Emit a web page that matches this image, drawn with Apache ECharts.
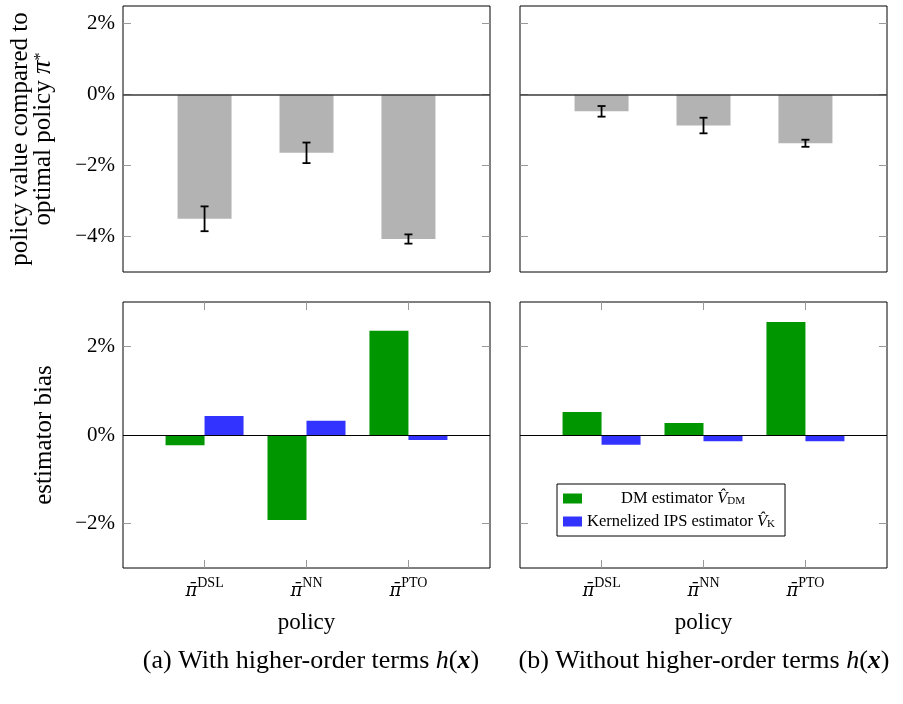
<!DOCTYPE html>
<html>
<head>
<meta charset="utf-8">
<script src="https://cdn.jsdelivr.net/npm/echarts@6/dist/echarts.min.js"></script>
<style>
  html, body { margin: 0; padding: 0; background: #fff; }
  #chart { width: 903px; height: 704px; }
</style>
</head>
<body>
<div id="chart"></div>
<script>
// policies and read-off values (percent)
const policies = ['DSL', 'NN', 'PTO'];
const valueWithH = [-3.5, -1.64, -4.07];
const errWithH = [0.35, 0.29, 0.13];
const valueWithoutH = [-0.47, -0.87, -1.37];
const errWithoutH = [0.15, 0.22, 0.1];
const dmBiasWithH = [-0.23, -1.92, 2.35];
const ipsBiasWithH = [0.43, 0.32, -0.11];
const dmBiasWithoutH = [0.52, 0.27, 2.55];
const ipsBiasWithoutH = [-0.22, -0.14, -0.14];
const topTicks = [-4, -2, 0, 2];
const bottomTicks = [-2, 0, 2];

const FONT = '"Liberation Serif", "DejaVu Serif", serif';
const GREEN = '#009600';
const BLUE = '#3333ff';
const GRAY = '#b3b3b3';

const chart = echarts.init(document.getElementById('chart'));

const pct = v => (v < 0 ? '\u2212' : '') + Math.abs(v) + '%';
const pairs = arr => arr.map((v, i) => [i, v]);
const errs = (vals, e) => vals.map((v, i) => [i, v - e[i], v + e[i]]);

const grids = [
  { left: 123, top: 6, width: 367, height: 266 },
  { left: 520, top: 6, width: 367, height: 266 },
  { left: 123, top: 302, width: 367, height: 266 },
  { left: 520, top: 302, width: 367, height: 266 }
].map(g => ({ ...g, show: true, borderColor: '#000', borderWidth: 1, backgroundColor: 'transparent' }));

const tickStyle = { inside: true, length: 8, lineStyle: { color: '#999', width: 1 } };

const xBase = (gridIndex, position, withTicks, withLabels) => ({
  type: 'value', gridIndex, position, min: -0.8, max: 2.8,
  axisLine: { show: false, onZero: false },
  splitLine: { show: false },
  axisTick: { show: withTicks, ...tickStyle, customValues: [0, 1, 2] },
  axisLabel: {
    show: withLabels, customValues: [0, 1, 2], margin: 8,
    formatter: v => '{pi|\u03C0\u0304}{sup|' + policies[v] + '}',
    rich: {
      pi: { fontFamily: '"DejaVu Serif", serif', fontSize: 18, fontStyle: 'italic', color: '#000', verticalAlign: 'bottom', lineHeight: 24 },
      sup: { fontFamily: FONT, fontSize: 14, color: '#000', verticalAlign: 'top', lineHeight: 14 }
    }
  },
  name: withLabels ? 'policy' : '',
  nameLocation: 'middle', nameGap: 43,
  nameTextStyle: { fontFamily: FONT, fontSize: 23, color: '#000' }
});

const yBase = (gridIndex, position, min, max, ticks, withLabels) => ({
  type: 'value', gridIndex, position, min, max,
  axisLine: { show: false, onZero: false },
  splitLine: { show: false },
  axisTick: { show: true, ...tickStyle, customValues: ticks },
  axisLabel: {
    show: withLabels, customValues: ticks, margin: 8,
    fontFamily: FONT, fontSize: 21, color: '#000', formatter: pct
  }
});

const xAxes = [
  xBase(0, 'bottom', false, false),
  xBase(1, 'bottom', false, false),
  xBase(2, 'bottom', true, true),
  xBase(3, 'bottom', true, true),
  xBase(2, 'top', true, false),
  xBase(3, 'top', true, false)
];

const yAxes = [
  yBase(0, 'left', -5, 2.5, topTicks, true),
  yBase(1, 'left', -5, 2.5, topTicks, false),
  yBase(2, 'left', -3, 3, bottomTicks, true),
  yBase(3, 'left', -3, 3, bottomTicks, false),
  yBase(0, 'right', -5, 2.5, topTicks, false),
  yBase(1, 'right', -5, 2.5, topTicks, false),
  yBase(2, 'right', -3, 3, bottomTicks, false),
  yBase(3, 'right', -3, 3, bottomTicks, false)
];

Object.assign(yAxes[0], {
  name: '{t|policy value compared to}\n{t|optimal policy }{m|\u03C0}{s|*}',
  nameLocation: 'middle', nameGap: 67, nameRotate: 90,
  nameTextStyle: {
    rich: {
      t: { fontFamily: FONT, fontSize: 25, color: '#000', lineHeight: 23, verticalAlign: 'bottom' },
      m: { fontFamily: FONT, fontSize: 27, fontStyle: 'italic', color: '#000', lineHeight: 23, verticalAlign: 'bottom' },
      s: { fontFamily: FONT, fontSize: 16, color: '#000', lineHeight: 15, verticalAlign: 'top' }
    }
  }
});
Object.assign(yAxes[2], {
  name: 'estimator bias', nameLocation: 'middle', nameGap: 66, nameRotate: 90,
  nameTextStyle: { fontFamily: FONT, fontSize: 25, color: '#000' }
});

const zeroLine = color => ({
  silent: true, symbol: ['none', 'none'], label: { show: false },
  lineStyle: { color, type: 'solid', width: color === '#000' ? 1 : 1.5 },
  data: [{ yAxis: 0 }]
});

const errorBar = (idx, data) => ({
  type: 'custom', xAxisIndex: idx, yAxisIndex: idx, z: 5, silent: true,
  data,
  renderItem: (params, api) => {
    const lo = api.coord([api.value(0), api.value(1)]);
    const hi = api.coord([api.value(0), api.value(2)]);
    const cap = 4;
    const style = { stroke: '#000', lineWidth: 1.8 };
    return {
      type: 'group',
      children: [
        { type: 'line', shape: { x1: lo[0], y1: lo[1], x2: hi[0], y2: hi[1] }, style },
        { type: 'line', shape: { x1: lo[0] - cap, y1: lo[1], x2: lo[0] + cap, y2: lo[1] }, style },
        { type: 'line', shape: { x1: hi[0] - cap, y1: hi[1], x2: hi[0] + cap, y2: hi[1] }, style }
      ]
    };
  }
});

const biasBar = (name, idx, values, color) => ({
  name, type: 'bar', xAxisIndex: idx, yAxisIndex: idx,
  data: pairs(values), barWidth: 39, barGap: '0%',
  itemStyle: { color }
});

const series = [
  { type: 'bar', xAxisIndex: 0, yAxisIndex: 0, data: pairs(valueWithH), barWidth: 54,
    itemStyle: { color: GRAY }, markLine: zeroLine('#3a3a3a') },
  errorBar(0, errs(valueWithH, errWithH)),
  { type: 'bar', xAxisIndex: 1, yAxisIndex: 1, data: pairs(valueWithoutH), barWidth: 54,
    itemStyle: { color: GRAY }, markLine: zeroLine('#3a3a3a') },
  errorBar(1, errs(valueWithoutH, errWithoutH)),
  { ...biasBar('DM', 2, dmBiasWithH, GREEN), markLine: zeroLine('#000') },
  biasBar('IPS', 2, ipsBiasWithH, BLUE),
  { ...biasBar('DM', 3, dmBiasWithoutH, GREEN), markLine: zeroLine('#000') },
  biasBar('IPS', 3, ipsBiasWithoutH, BLUE)
];

const legendRich = {
  pad: { width: 34 },
  t: { fontFamily: FONT, fontSize: 16.5, color: '#000' },
  v: { fontFamily: FONT, fontSize: 16.5, fontStyle: 'italic', color: '#000' },
  sub: { fontFamily: FONT, fontSize: 11, color: '#000', verticalAlign: 'bottom', padding: [6, 0, 0, 0] }
};

const caption = (x, label, text) => ({
  type: 'text', x, y: 661,
  style: {
    text: '{t|(' + label + ') ' + text + ' }{i|h}{t|(}{b|x}{t|)}',
    align: 'center', verticalAlign: 'middle',
    rich: {
      t: { fontFamily: FONT, fontSize: 26, fill: '#000' },
      i: { fontFamily: FONT, fontSize: 26, fontStyle: 'italic', fill: '#000' },
      b: { fontFamily: FONT, fontSize: 26, fontStyle: 'italic', fontWeight: 'bold', fill: '#000' }
    }
  }
});

chart.setOption({
  animation: false,
  grid: grids,
  xAxis: xAxes,
  yAxis: yAxes,
  legend: {
    data: ['DM', 'IPS'],
    orient: 'vertical',
    left: 557, top: 484,
    icon: 'rect', itemWidth: 19, itemHeight: 10, itemGap: 6,
    padding: [6, 10, 6, 6],
    borderColor: '#000', borderWidth: 1,
    selectedMode: false,
    formatter: name => name === 'DM'
      ? '{pad|}{t|DM estimator }{v|V\u0302}{sub|DM}'
      : '{t|Kernelized IPS estimator }{v|V\u0302}{sub|K}',
    textStyle: { rich: legendRich }
  },
  series,
  graphic: [
    caption(311, 'a', 'With higher-order terms'),
    caption(704, 'b', 'Without higher-order terms')
  ]
});
</script>
</body>
</html>
